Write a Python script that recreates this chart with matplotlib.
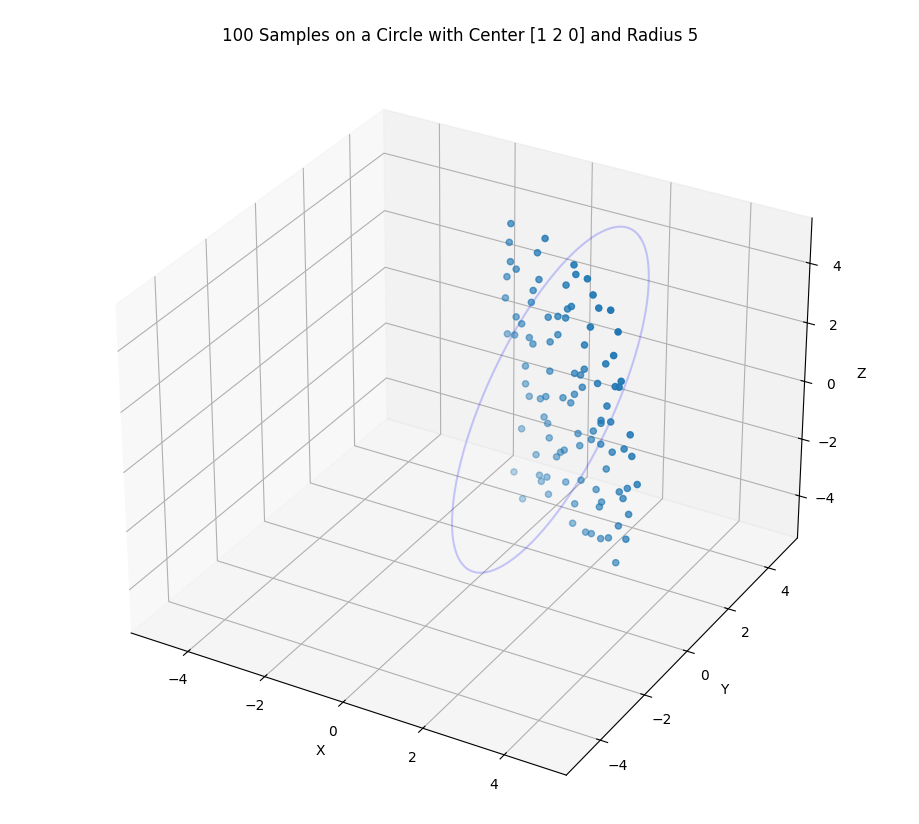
import numpy as np
import matplotlib
matplotlib.use("Agg")
import matplotlib.pyplot as plt

center = [1, 2, 0]
radius = 5
circle_t = np.linspace(0, 2*np.pi, 200)
circle_u = [0.0, 0.798, 0.603]
circle_v = [0.1, -0.6, 0.794]

xs = [0.4, -0.75, 1.85, 1.4, 0.1, 2.65, -0.9, 1.05, 3.0, 0.2, -0.55, 2.05, 1.15, -0.9, 2.85, 0.8, -0.1, 1.75, 2.5, -1.05,
      0.75, 2.85, -0.4, 1.7, 2.2, -0.05, 1.35, 2.55, -1.05, 0.5, 3.35, 1.3, -0.35, 2.25, 0.9, 3.05, 0.35, 1.9, 2.65, -0.3,
      1.8, 3.5, 0.2, 1.4, 2.35, 0.45, 2.9, 0.8, -0.55, 3.25, 2.05, 0.0, 2.3, 1.0, 3.3, 0.15, 1.4, 2.65, 0.5, -0.8,
      2.0, 1.3, 2.9, -0.4, 1.35, 2.25, 0.0, 0.5, 3.0, -0.2, 1.55, 2.25, -0.4, 1.35, 3.1, 0.7, 3.0, 0.2, 1.8, 2.05,
      -0.7, 1.05, 3.1, 0.5, -0.75, 2.65, 1.1, 2.2, 0.35, 3.05, 1.5, 0.4, 2.4, 1.3, -0.6, 3.35, 0.95, 2.3, 0.1, 1.5]
ys = [2.6, 3.1, 1.9, 2.2, 2.8, 1.5, 3.3, 2.4, 1.2, 2.7, 3.0, 1.7, 2.3, 3.2, 1.3, 2.5, 2.9, 2.0, 1.6, 3.4,
      2.6, 1.4, 3.0, 2.1, 1.8, 2.9, 2.3, 1.6, 3.5, 2.7, 1.2, 2.4, 3.1, 1.9, 2.6, 1.5, 2.8, 2.2, 1.7, 3.2,
      2.3, 1.3, 3.0, 2.5, 2.0, 2.8, 1.6, 2.7, 3.3, 1.4, 2.1, 3.0, 1.8, 2.6, 1.2, 2.9, 2.3, 1.6, 2.7, 3.4,
      2.0, 2.4, 1.5, 3.1, 2.2, 1.7, 2.8, 2.6, 1.3, 3.0, 2.3, 1.9, 3.2, 2.5, 1.6, 2.7, 1.4, 2.9, 2.1, 1.8,
      3.0, 2.4, 1.2, 2.7, 3.3, 1.6, 2.6, 2.0, 2.9, 1.5, 2.4, 2.8, 1.7, 2.2, 3.1, 1.3, 2.6, 1.9, 3.0, 2.3]
zs = [4.8, 4.6, 4.4, 4.2, 4.1, 3.9, 3.8, 3.6, 3.5, 3.3, 3.2, 3.0, 2.9, 2.7, 2.6, 2.4, 2.3, 2.1, 2.0, 1.8,
      1.7, 1.5, 1.4, 1.2, 1.1, 0.9, 0.8, 0.6, 0.5, 0.3, 0.2, 0.0, -0.1, -0.3, -0.4, -0.6, -0.7, -0.9, -1.0, -1.2,
      -1.3, -1.5, -1.6, -1.8, -1.9, -2.1, -2.2, -2.4, -2.5, -2.7, -2.8, -3.0, -3.1, -3.3, -3.4, -3.6, -3.7, -3.9, -4.0, -4.2,
      -4.3, -4.5, -4.6, -4.8, 4.5, 3.7, 2.8, 2.2, 1.6, 1.0, 0.4, -0.2, -0.8, -1.4, -2.0, -2.6, -3.2, -3.8, -4.4, 4.0,
      3.4, 2.5, 1.9, 1.3, 0.7, 0.1, -0.5, -1.1, -1.7, -2.3, -2.9, -3.5, -4.1, 3.1, 1.5, -0.6, -2.2, -3.0, -1.0, 0.8]

fig = plt.figure(figsize=(9.2, 8.24), dpi=100)
ax = fig.add_subplot(111, projection='3d')
ax.set_position([0.035, 0.0, 0.93, 0.94])
ax.scatter(xs, ys, zs)
cc, ss = np.cos(circle_t), np.sin(circle_t)
cx = center[0] + radius*(cc*circle_u[0] + ss*circle_v[0])
cy = center[1] + radius*(cc*circle_u[1] + ss*circle_v[1])
cz = center[2] + radius*(cc*circle_u[2] + ss*circle_v[2])
ax.plot(cx, cy, cz, color='blue', alpha=0.2)
ax.set_xlim(-5.5, 5.5); ax.set_ylim(-5.5, 5.5); ax.set_zlim(-5.5, 5.5)
ax.set_xticks([-4, -2, 0, 2, 4]); ax.set_yticks([-4, -2, 0, 2, 4]); ax.set_zticks([-4, -2, 0, 2, 4])
ax.set_xlabel('X'); ax.set_ylabel('Y'); ax.set_zlabel('Z')
ax.set_title('100 Samples on a Circle with Center [1 2 0] and Radius 5')
fig.savefig('out.png')
